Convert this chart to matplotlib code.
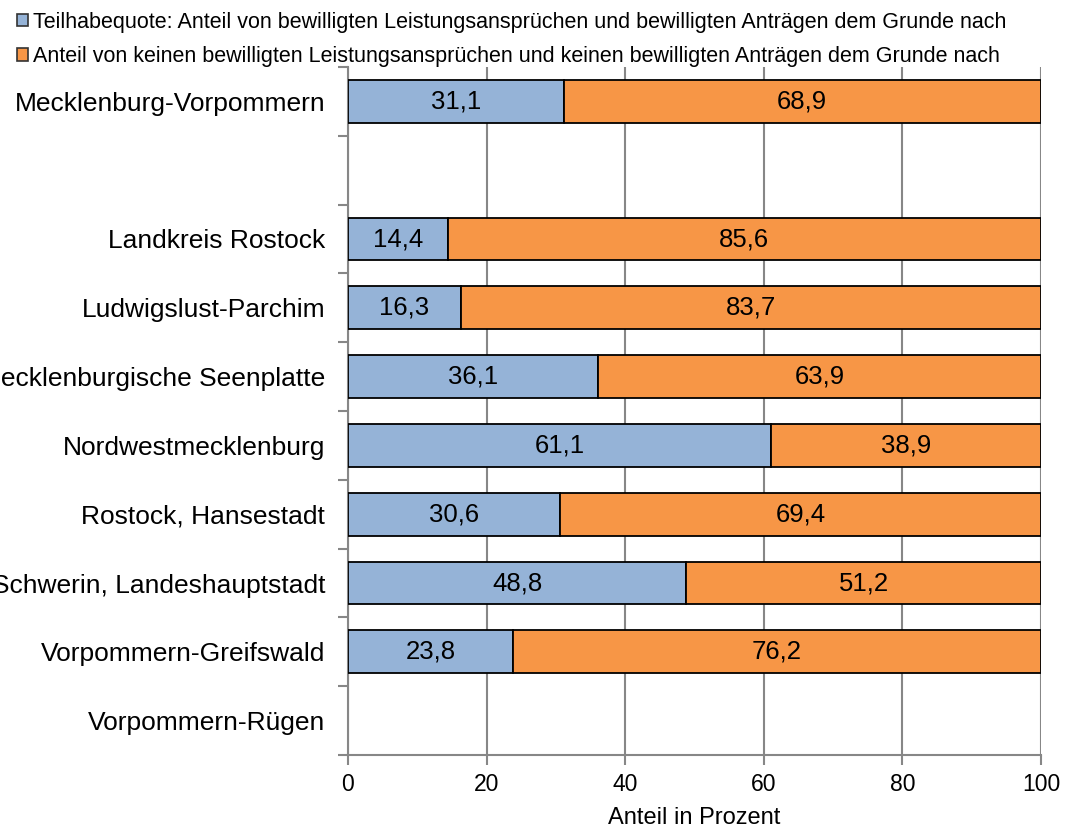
import numpy as np
import matplotlib.pyplot as plt
from matplotlib.patches import Patch

plt.rcParams['font.family'] = ['Liberation Sans', 'DejaVu Sans']

# categories top to bottom; '' is the empty gap row
regions = ['Mecklenburg-Vorpommern', '', 'Landkreis Rostock', 'Ludwigslust-Parchim',
           'Mecklenburgische Seenplatte', 'Nordwestmecklenburg', 'Rostock, Hansestadt',
           'Schwerin, Landeshauptstadt', 'Vorpommern-Greifswald', 'Vorpommern-Rügen']
granted = [31.1, np.nan, 14.4, 16.3, 36.1, 61.1, 30.6, 48.8, 23.8, np.nan]
not_granted = [68.9, np.nan, 85.6, 83.7, 63.9, 38.9, 69.4, 51.2, 76.2, np.nan]

legend_labels = ['Teilhabequote: Anteil von bewilligten Leistungsansprüchen und bewilligten Anträgen dem Grunde nach',
                 'Anteil von keinen bewilligten Leistungsansprüchen und keinen bewilligten Anträgen dem Grunde nach']
blue = '#95B3D7'
orange = '#F79646'
grid_c = '#878787'

fig = plt.figure(figsize=(10.68, 8.3), dpi=100)
ax = fig.add_axes([348/1068, 75/830, (1041-348)/1068, (755-67)/830])

y = np.arange(len(regions))
g = np.array(granted)
ng = np.array(not_granted)
ax.barh(y, g, height=0.62, color=blue, edgecolor='black', linewidth=1.3, zorder=3)
ax.barh(y, ng, left=g, height=0.62, color=orange, edgecolor='black', linewidth=1.3, zorder=3)

for yi, a, b in zip(y, g, ng):
    if np.isnan(a):
        continue
    ax.text(a/2, yi, f'{a:.1f}'.replace('.', ','), ha='center', va='center', fontsize=18.5, zorder=4)
    ax.text(a + b/2, yi, f'{b:.1f}'.replace('.', ','), ha='center', va='center', fontsize=18.5, zorder=4)

ax.set_xlim(0, 100)
ax.set_ylim(len(regions) - 0.5, -0.5)
ax.set_xticks([0, 20, 40, 60, 80, 100])
ax.set_yticks(np.arange(-0.5, len(regions)))
ax.set_yticklabels([])
ax.set_yticks(y, minor=True)
ax.set_yticklabels(regions, minor=True, fontsize=19)
ax.tick_params(axis='y', which='major', length=7, color=grid_c, width=1.5)
ax.tick_params(axis='y', which='minor', length=0, pad=16.5)
ax.tick_params(axis='x', length=7, color=grid_c, width=1.5, labelsize=16.5, pad=6)
ax.xaxis.grid(True, color=grid_c, linewidth=1.5, zorder=0)
ax.set_axisbelow(True)
for s in ['top', 'right']:
    ax.spines[s].set_visible(False)
for s in ['left', 'bottom']:
    ax.spines[s].set_color(grid_c)
    ax.spines[s].set_linewidth(1.5)
ax.set_xlabel('Anteil in Prozent', fontsize=17, labelpad=8)

handles = [Patch(facecolor=blue, edgecolor='#333333', linewidth=1.2),
           Patch(facecolor=orange, edgecolor='#333333', linewidth=1.2)]
fig.legend(handles, legend_labels, loc='upper left', bbox_to_anchor=(8/1068, 1 - 3/830),
           frameon=False, fontsize=15.5, handlelength=0.55, handleheight=0.55,
           handletextpad=0.2, labelspacing=0.62, borderaxespad=0)

plt.savefig('out.png', dpi=100)
